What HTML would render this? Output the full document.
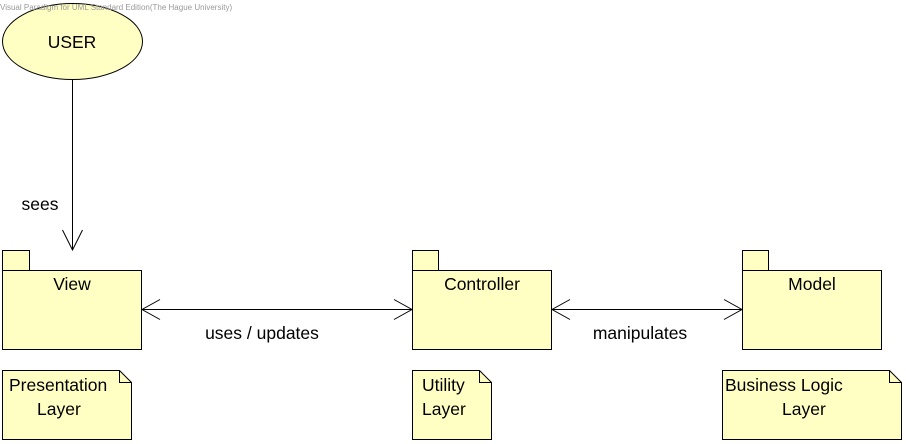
<!DOCTYPE html>
<html><head><meta charset="utf-8"><style>
html,body{margin:0;padding:0;background:#fff;}
svg{display:block;}
text{font-family:"Liberation Sans",Arial,sans-serif;fill:#000;}
</style></head><body>
<svg width="906" height="444" viewBox="0 0 906 444" xmlns="http://www.w3.org/2000/svg">
<g fill="#ffffc4" stroke="#000" stroke-width="1">
<ellipse cx="72.5" cy="41.5" rx="70" ry="38"/>
<rect x="2.5" y="250.5" width="27" height="20"/>
<rect x="2.5" y="270.5" width="139" height="79"/>
<rect x="412.5" y="250.5" width="26" height="20"/>
<rect x="412.5" y="270.5" width="139" height="79"/>
<rect x="742.5" y="250.5" width="26" height="20"/>
<rect x="742.5" y="270.5" width="139" height="79"/>
<path d="M2.5 370.5 H119.5 L131.5 382.5 V439.5 H2.5 Z"/>
<path d="M119.5 370.5 V382.5 H131.5" fill="none"/>
<path d="M412.5 370.5 H479.5 L491.5 382.5 V439.5 H412.5 Z"/>
<path d="M479.5 370.5 V382.5 H491.5" fill="none"/>
<path d="M722.5 370.5 H889.5 L901.5 382.5 V439.5 H722.5 Z"/>
<path d="M889.5 370.5 V382.5 H901.5" fill="none"/>
</g>
<g stroke="#000" stroke-width="1" fill="none">
<path d="M72.5 79.5 V250"/>
<path d="M62.5 230 L72.5 250 L82.5 230"/>
<path d="M142 309.5 H412"/>
<path d="M160 299.5 L142 309.5 L160 319.5"/>
<path d="M394 299.5 L412 309.5 L394 319.5"/>
<path d="M552 309.5 H742"/>
<path d="M570 299.5 L552 309.5 L570 319.5"/>
<path d="M724 299.5 L742 309.5 L724 319.5"/>
</g>
<text x="0" y="10" font-size="8" style="fill:#999">Visual Paradigm for UML Standard Edition(The Hague University)</text>
<g font-size="17.5">
<text x="72" y="48" text-anchor="middle">USER</text>
<text x="40" y="210" text-anchor="middle">sees</text>
<text x="72" y="290" text-anchor="middle">View</text>
<text x="482" y="290" text-anchor="middle">Controller</text>
<text x="812" y="290" text-anchor="middle">Model</text>
<text x="262" y="339" text-anchor="middle">uses / updates</text>
<text x="640" y="339" text-anchor="middle">manipulates</text>
<text x="9" y="391">Presentation</text>
<text x="37" y="415">Layer</text>
<text x="422" y="391">Utility</text>
<text x="422" y="415">Layer</text>
<text x="725" y="391">Business Logic</text>
<text x="782" y="415">Layer</text>
</g>
</svg>
</body></html>
